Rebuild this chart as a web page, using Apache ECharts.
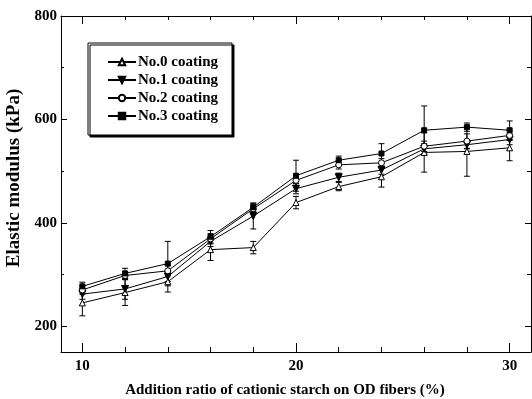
<!DOCTYPE html>
<html>
<head>
<meta charset="utf-8">
<script src="https://cdn.jsdelivr.net/npm/echarts@6/dist/echarts.min.js"></script>
<style>
  html, body { margin: 0; padding: 0; background: #fff; }
  #chart { width: 532px; height: 399px; }
</style>
</head>
<body>
<div id="chart"></div>
<script>
// addition ratio (%) on the x axis
const ratios = [10, 12, 14, 16, 18, 20, 22, 24, 26, 28, 30];

// elastic modulus (kPa)
const coat0 = [245, 265, 286, 348, 352, 439, 470, 489, 536, 538, 545];
const coat1 = [262, 272, 296, 364, 413, 466, 488, 502, 543, 551, 561];
const coat2 = [270, 298, 307, 369, 427, 482, 512, 516, 548, 558, 569];
const coat3 = [277, 302, 321, 373, 430, 491, 521, 534, 579, 585, 579];

// error bar half-widths (kPa)
const err0 = [25, 25, 20, 21, 12, 12, 8, 20, 38, 48, 25];
const err1 = [10, 20, 10, 10, 25, 10, 8, 8, 10, 8, 10];
const err2 = [8, 8, 10, 10, 8, 10, 8, 8, 10, 14, 10];
const err3 = [8, 10, 43, 12, 8, 30, 8, 19, 47, 8, 18];

const seriesNames = ["No.0 coating", "No.1 coating", "No.2 coating", "No.3 coating"];

const xMajor = [10, 20, 30];
const xMinor = [12, 14, 16, 18, 22, 24, 26, 28];
const yMajor = [200, 400, 600, 800];
const yMinor = [300, 500, 700];

const FONT = "Liberation Serif";
const downTri = "path://M0,0 L10,0 L5,9 Z";

const chart = echarts.init(document.getElementById("chart"), null, { renderer: "canvas" });

const pairs = (ys) => ratios.map((x, i) => [x, ys[i]]);
const triples = (ys, es) => ratios.map((x, i) => [x, ys[i], es[i]]);

function errorBars(ys, es) {
  return {
    type: "custom",
    silent: true,
    z: 1,
    encode: { x: 0, y: 1 },
    data: triples(ys, es),
    renderItem: (params, api) => {
      const x = api.value(0), y = api.value(1), e = api.value(2);
      const hi = api.coord([x, y + e]);
      const lo = api.coord([x, y - e]);
      const st = { stroke: "#000", lineWidth: 1 };
      return {
        type: "group",
        children: [
          { type: "line", shape: { x1: hi[0], y1: hi[1], x2: lo[0], y2: lo[1] }, style: st },
          { type: "line", shape: { x1: hi[0] - 3, y1: hi[1], x2: hi[0] + 3, y2: hi[1] }, style: st },
          { type: "line", shape: { x1: lo[0] - 3, y1: lo[1], x2: lo[0] + 3, y2: lo[1] }, style: st },
        ],
      };
    },
  };
}

function lineSeries(name, ys, symbol, size, filled) {
  return {
    name,
    type: "line",
    z: 3,
    data: pairs(ys),
    symbol,
    symbolSize: size,
    showAllSymbol: true,
    lineStyle: { color: "#000", width: 1 },
    itemStyle: { color: filled ? "#000" : "#fff", borderColor: "#000", borderWidth: 1 },
    emphasis: { disabled: true },
  };
}

const xBase = { type: "value", min: 9, max: 31, splitLine: { show: false } };
const yBase = { type: "value", min: 150, max: 800, splitLine: { show: false } };
const axisLine = { show: true, lineStyle: { color: "#000", width: 1 } };
const labelStyle = { color: "#000", fontFamily: FONT, fontWeight: "bold", fontSize: 15 };

chart.setOption({
  animation: false,
  backgroundColor: "#fff",
  grid: { left: 61, right: 1, top: 16, bottom: 47, containLabel: false, outerBoundsMode: "none" },
  legend: {
    orient: "vertical",
    left: 88,
    top: 43,
    padding: [11, 14, 11, 19],
    itemWidth: 28,
    itemHeight: 8,
    itemGap: 2,
    backgroundColor: "#fff",
    borderColor: "#000",
    borderWidth: 1,
    shadowColor: "#000",
    shadowOffsetX: 2,
    shadowOffsetY: 2,
    shadowBlur: 0,
    data: seriesNames,
    textStyle: {
      color: "#000", fontFamily: FONT, fontWeight: "bold", fontSize: 15,
      lineHeight: 16, padding: [0, 0, 0, -3],
    },
  },
  xAxis: [
    {
      ...xBase,
      position: "bottom",
      axisLine,
      axisTick: { show: true, inside: true, length: 9, customValues: xMajor, lineStyle: { color: "#000" } },
      axisLabel: { ...labelStyle, margin: 7, customValues: xMajor },
      name: "Addition ratio of cationic starch on OD fibers (%)",
      nameLocation: "middle",
      nameGap: 31,
      nameTextStyle: { ...labelStyle, fontSize: 15, padding: [0, 22, 0, 0] },
    },
    {
      ...xBase,
      position: "bottom",
      axisLine: { show: false },
      axisTick: { show: true, inside: true, length: 5, customValues: xMinor, lineStyle: { color: "#000" } },
      axisLabel: { show: false },
    },
    {
      ...xBase,
      position: "top",
      axisLine,
      axisTick: { show: true, inside: true, length: 8, customValues: xMajor, lineStyle: { color: "#000" } },
      axisLabel: { show: false },
    },
    {
      ...xBase,
      position: "top",
      axisLine: { show: false },
      axisTick: { show: true, inside: true, length: 4, customValues: xMinor, lineStyle: { color: "#000" } },
      axisLabel: { show: false },
    },
  ],
  yAxis: [
    {
      ...yBase,
      position: "left",
      axisLine,
      axisTick: { show: true, inside: true, length: 6, customValues: yMajor, lineStyle: { color: "#000" } },
      axisLabel: { ...labelStyle, margin: 4, customValues: yMajor },
      name: "Elastic modulus (kPa)",
      nameLocation: "middle",
      nameGap: 37,
      nameTextStyle: { ...labelStyle, fontSize: 19, padding: [0, 0, 0, 12] },
    },
    {
      ...yBase,
      position: "left",
      axisLine: { show: false },
      axisTick: { show: true, inside: true, length: 3, customValues: yMinor, lineStyle: { color: "#000" } },
      axisLabel: { show: false },
    },
    {
      ...yBase,
      position: "right",
      axisLine,
      axisTick: { show: true, inside: true, length: 6, customValues: yMajor, lineStyle: { color: "#000" } },
      axisLabel: { show: false },
    },
    {
      ...yBase,
      position: "right",
      axisLine: { show: false },
      axisTick: { show: true, inside: true, length: 4, customValues: yMinor, lineStyle: { color: "#000" } },
      axisLabel: { show: false },
    },
  ],
  series: [
    errorBars(coat0, err0),
    errorBars(coat1, err1),
    errorBars(coat2, err2),
    errorBars(coat3, err3),
    lineSeries(seriesNames[0], coat0, "triangle", 6, false),
    lineSeries(seriesNames[1], coat1, downTri, 7, true),
    lineSeries(seriesNames[2], coat2, "circle", 6, false),
    lineSeries(seriesNames[3], coat3, "rect", 5, true),
  ],
});
</script>
</body>
</html>
